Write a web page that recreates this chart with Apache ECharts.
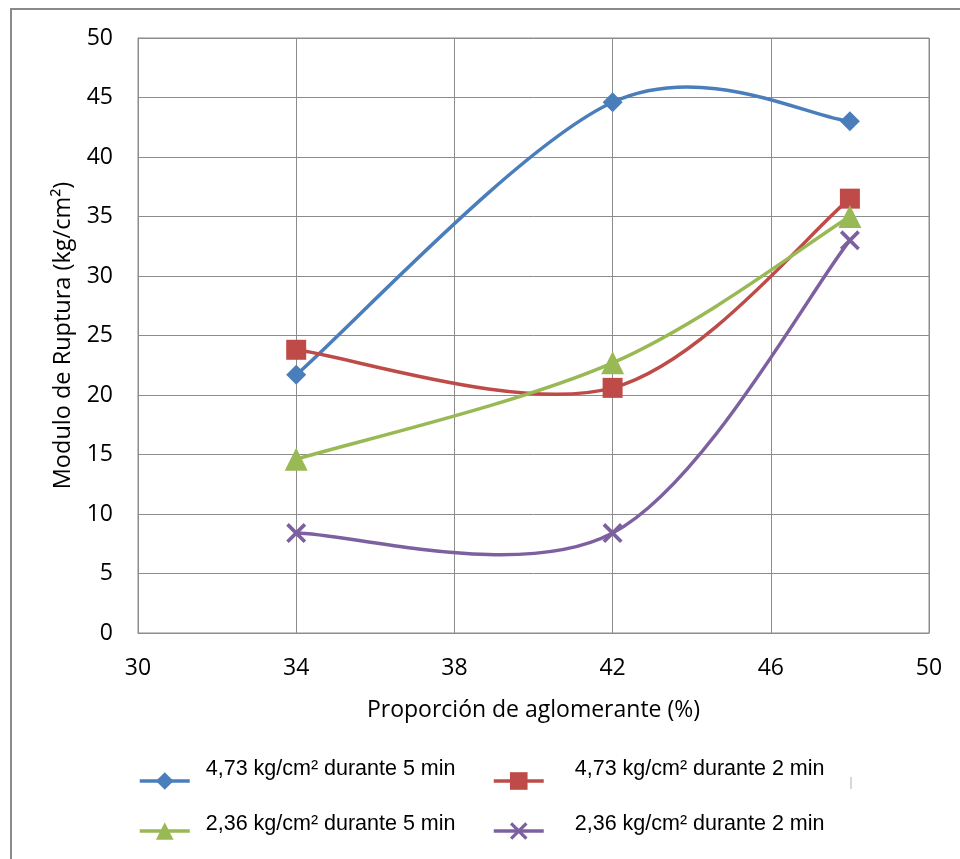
<!DOCTYPE html>
<html>
<head>
<meta charset="utf-8">
<script src="https://cdn.jsdelivr.net/npm/echarts@6/dist/echarts.min.js"></script>
<style>
  html, body { margin: 0; padding: 0; background: #ffffff; }
  #chart { width: 960px; height: 859px; }
</style>
</head>
<body>
<div id="chart"></div>
<script>
// Binder proportion (%) on the horizontal axis
const proporcion = [34, 42, 48];

// Modulus of rupture (kg/cm²) for each pressing condition
const serie473x5 = [21.7, 44.6, 43.0];
const serie473x2 = [23.8, 20.6, 36.5];
const serie236x5 = [14.6, 22.7, 35.0];
const serie236x2 = [8.4, 8.4, 33.0];

const nombres = [
  '4,73 kg/cm² durante 5 min',
  '4,73 kg/cm² durante 2 min',
  '2,36 kg/cm² durante 5 min',
  '2,36 kg/cm² durante 2 min'
];

// X axis runs 30..50 in steps of 4; the scale is laid out from 0 so ticks land on 30, 34, 38...
const X_MIN = 30, X_MAX = 50, X_STEP = 4;
const Y_MIN = 0, Y_MAX = 50, Y_STEP = 5;

const colores = ['#4a7ebb', '#be4b48', '#98b954', '#7d60a0'];
const GRID_GREY = '#8c8c8c';
const LINE_W = 3.5;

const crossSymbol = 'path://M0,1.3 L1.3,0 L10,8.7 L8.7,10 Z M8.7,0 L10,1.3 L1.3,10 L0,8.7 Z';

function pares(values) {
  return proporcion.map((x, i) => [x - X_MIN, values[i]]);
}

// Smoothed connecting curve: cubic Bézier segments with Catmull-Rom style
// control points (1/6 of the neighbour chord), computed in pixel space.
function curva(values, color) {
  const pts = pares(values);
  const n = pts.length;
  return {
    type: 'custom',
    coordinateSystem: 'cartesian2d',
    data: pts,
    encode: { x: 0, y: 1 },
    silent: true,
    z: 2,
    renderItem: function (params, api) {
      const i = params.dataIndex;
      if (i >= n - 1) return { type: 'group', children: [] };
      const at = j => api.coord(pts[Math.max(0, Math.min(n - 1, j))]);
      const p0 = at(i - 1), p1 = at(i), p2 = at(i + 1), p3 = at(i + 2);
      return {
        type: 'bezierCurve',
        shape: {
          x1: p1[0], y1: p1[1],
          x2: p2[0], y2: p2[1],
          cpx1: p1[0] + (p2[0] - p0[0]) / 6,
          cpy1: p1[1] + (p2[1] - p0[1]) / 6,
          cpx2: p2[0] - (p3[0] - p1[0]) / 6,
          cpy2: p2[1] - (p3[1] - p1[1]) / 6
        },
        style: { stroke: color, lineWidth: LINE_W, fill: null, lineCap: 'round' }
      };
    }
  };
}

// Markers (and legend entries) for each data set
function marcas(name, values, color, symbol, size) {
  return {
    name: name,
    type: 'line',
    data: pares(values),
    symbol: symbol,
    symbolSize: size,
    showSymbol: true,
    lineStyle: { color: color, width: LINE_W, opacity: 0 },
    itemStyle: { color: color },
    z: 3
  };
}

const chart = echarts.init(document.getElementById('chart'), null, { renderer: 'canvas' });

function leyenda(name, left, top, textShift, lift) {
  return {
    data: [name],
    left: left,
    top: top,
    padding: 0,
    itemWidth: 50,
    itemHeight: 22,
    selectedMode: false,
    lineStyle: { opacity: 1, width: LINE_W },
    formatter: n => n + '\n ',
    textStyle: {
      fontFamily: 'Liberation Sans, Arial, sans-serif',
      fontSize: 21.5,
      lineHeight: lift,
      color: '#000000',
      padding: [0, 0, 0, textShift]
    }
  };
}

chart.setOption({
  backgroundColor: '#ffffff',
  animation: false,
  grid: {
    left: 138, right: 31, top: 38, bottom: 226,
    show: true,
    borderColor: GRID_GREY,
    borderWidth: 1
  },
  xAxis: {
    type: 'value',
    min: 0,
    max: X_MAX - X_MIN,
    interval: X_STEP,
    name: 'Proporción de aglomerante (%)',
    nameLocation: 'middle',
    nameGap: 66,
    nameTextStyle: { fontFamily: 'Open Sans', fontSize: 23, color: '#000000' },
    axisLine: { show: true, lineStyle: { color: GRID_GREY, width: 1 } },
    axisTick: { show: false },
    axisLabel: {
      margin: 24,
      fontFamily: 'Open Sans',
      fontSize: 23,
      color: '#000000',
      formatter: v => String(v + X_MIN)
    },
    splitLine: { show: true, lineStyle: { color: GRID_GREY, width: 1 } }
  },
  yAxis: {
    type: 'value',
    min: Y_MIN,
    max: Y_MAX,
    interval: Y_STEP,
    name: 'Modulo de Ruptura (kg/cm²)',
    nameLocation: 'middle',
    nameGap: 63,
    nameTextStyle: { fontFamily: 'Open Sans', fontSize: 23.5, color: '#000000' },
    axisLine: { show: true, lineStyle: { color: GRID_GREY, width: 1 } },
    axisTick: { show: false },
    axisLabel: {
      margin: 25,
      fontFamily: 'Open Sans',
      fontSize: 23,
      color: '#000000'
    },
    splitLine: { show: true, lineStyle: { color: GRID_GREY, width: 1 } }
  },
  legend: [
    leyenda(nombres[0], 138, 757, 11, 24),
    leyenda(nombres[1], 492, 757, 26, 24),
    leyenda(nombres[2], 138, 813, 11, 14),
    leyenda(nombres[3], 492, 813, 26, 14)
  ],
  graphic: [
    {
      type: 'rect',
      shape: { x: 11, y: 9, width: 1000, height: 1000 },
      style: { fill: 'none', stroke: '#8a8a8a', lineWidth: 2 },
      silent: true
    },
    {
      type: 'line',
      shape: { x1: 851, y1: 777, x2: 851, y2: 789 },
      style: { stroke: '#b0b0b0', lineWidth: 1 },
      silent: true
    }
  ],
  series: [
    curva(serie473x5, colores[0]),
    curva(serie473x2, colores[1]),
    curva(serie236x5, colores[2]),
    curva(serie236x2, colores[3]),
    marcas(nombres[0], serie473x5, colores[0], 'diamond', 20),
    marcas(nombres[1], serie473x2, colores[1], 'rect', 20),
    marcas(nombres[2], serie236x5, colores[2], 'triangle', 23),
    marcas(nombres[3], serie236x2, colores[3], crossSymbol, 20)
  ]
});
</script>
</body>
</html>
